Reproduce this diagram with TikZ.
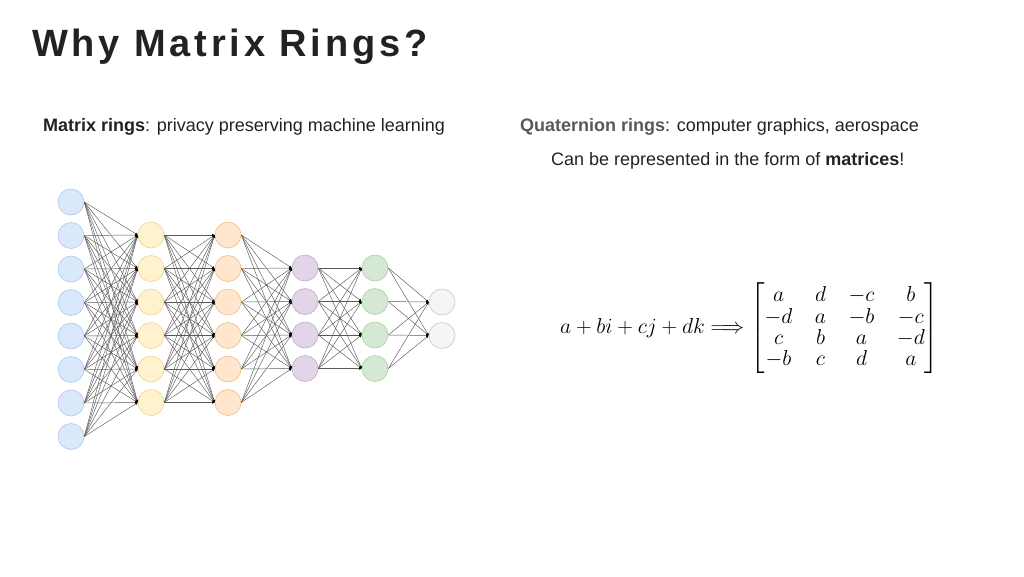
\documentclass[tikz,border=0pt]{standalone}
\usepackage{fontspec}
\usepackage{amsmath}
\setmainfont{Liberation Sans}
\usetikzlibrary{arrows.meta}
\definecolor{txt}{HTML}{222222}
\begin{document}
\begin{tikzpicture}[x=1pt,y=-1pt,
  neu/.style={circle,minimum size=26pt,inner sep=0pt,line width=0.6pt},
  L1/.style={neu,fill={rgb,255:red,218;green,232;blue,252},draw={rgb,255:red,175;green,200;blue,235}},
  L2/.style={neu,fill={rgb,255:red,255;green,242;blue,204},draw={rgb,255:red,235;green,212;blue,150}},
  L3/.style={neu,fill={rgb,255:red,255;green,230;blue,204},draw={rgb,255:red,235;green,190;blue,140}},
  L4/.style={neu,fill={rgb,255:red,225;green,213;blue,231},draw={rgb,255:red,190;green,170;blue,205}},
  L5/.style={neu,fill={rgb,255:red,213;green,232;blue,212},draw={rgb,255:red,170;green,210;blue,165}},
  L6/.style={neu,fill={rgb,255:red,245;green,245;blue,245},draw={rgb,255:red,200;green,200;blue,200}},
  edge/.style={draw=black!65,line width=0.45pt,-{Latex[length=2.5pt,width=2.5pt,black]}},
  lbl/.style={inner sep=0pt,font=\fontsize{18}{22}\selectfont,text=txt}]
\useasboundingbox (0,0) rectangle (1024,576);
\node[anchor=west,inner sep=0pt,text=txt,font=\fontsize{38}{44}\selectfont\bfseries\addfontfeature{LetterSpace=10}] (title) at (32,47) {Why Matrix Rings?};
\node[lbl,anchor=west] (t1) at (43,127) {\textbf{Matrix rings}: privacy preserving machine learning};
\node[lbl,anchor=west] (t2) at (520,127) {\textcolor{black!65}{\textbf{Quaternion rings}}: computer graphics, aerospace};
\node[lbl,anchor=west] (t3) at (551,161) {Can be represented in the form of \textbf{matrices}!};
% layers
\foreach \i in {1,...,8}{\node[L1] (a\i) at (71,{202+(\i-1)*33.5}) {};}
\foreach \i in {1,...,6}{\node[L2] (b\i) at (151,{235+(\i-1)*33.5}) {};}
\foreach \i in {1,...,6}{\node[L3] (c\i) at (228,{235+(\i-1)*33.5}) {};}
\foreach \i in {1,...,4}{\node[L4] (d\i) at (305,{268+(\i-1)*33.5}) {};}
\foreach \i in {1,...,4}{\node[L5] (e\i) at (375,{268+(\i-1)*33.5}) {};}
\foreach \i in {1,2}{\node[L6] (f\i) at (442,{302+(\i-1)*33.5}) {};}
\foreach \i in {1,...,8}\foreach \j in {1,...,6}{\draw[edge] (a\i.east) -- (b\j.west);}
\foreach \i in {1,...,6}\foreach \j in {1,...,6}{\draw[edge] (b\i.east) -- (c\j.west);}
\foreach \i in {1,...,6}\foreach \j in {1,...,4}{\draw[edge] (c\i.east) -- (d\j.west);}
\foreach \i in {1,...,4}\foreach \j in {1,...,4}{\draw[edge] (d\i.east) -- (e\j.west);}
\foreach \i in {1,...,4}\foreach \j in {1,2}{\draw[edge] (e\i.east) -- (f\j.west);}
\node[inner sep=0pt,anchor=west,font=\fontsize{19}{23}\selectfont] (m) at (560,328)
 {\scalebox{1.25}{$\setlength{\arraycolsep}{9pt}a+bi+cj+dk \Longrightarrow \left[\begin{matrix} a & d & -c & b\\[-6pt] -d & a & -b & -c\\[-6pt] c & b & a & -d\\[-6pt] -b & c & d & a\end{matrix}\right]$}};
\end{tikzpicture}
\end{document}
